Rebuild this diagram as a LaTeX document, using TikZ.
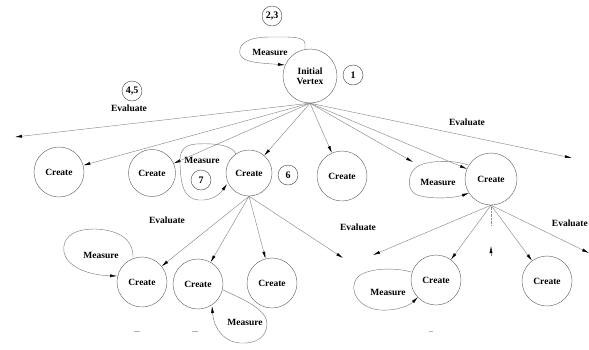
\documentclass[tikz,border=0pt]{standalone}
\usepackage{fontspec}
\setmainfont{Liberation Serif}
\usetikzlibrary{arrows.meta}
\tikzset{
  vtx/.style={circle, draw=black!65, line width=0.4pt, minimum size=50pt, inner sep=0pt,
    font=\bfseries\fontsize{9.5}{11}\selectfont, align=center},
  num/.style={circle, draw=black!75, line width=0.4pt, minimum size=20pt, inner sep=0pt,
    font=\bfseries\fontsize{10}{11}\selectfont},
  lbl/.style={font=\bfseries\fontsize{9.5}{11}\selectfont, inner sep=0pt},
  arr/.style={draw=black!50, line width=0.4pt, -{Latex[length=7pt,width=3pt,color=black]}},
  blob/.style={draw=black!55, line width=0.4pt, -{Latex[length=7pt,width=3pt,color=black]}},
  dots/.style={font=\fontsize{8}{9}\selectfont, inner sep=0pt}
}
\begin{document}
\begin{tikzpicture}[x=1pt,y=-1pt]
\useasboundingbox (0,0) rectangle (589,349);

% vertices
\node[vtx, minimum size=54pt] (iv) at (310,76) {Initial\\[-1pt]Vertex};
\node[vtx] (c1) at (59,172) {Create};
\node[vtx, minimum size=47pt] (c2) at (152,173) {Create};
\node[vtx, minimum size=46pt] (c3) at (249,173) {Create};
\node[vtx] (c4) at (342,176) {Create};
\node[vtx, minimum size=52pt] (c5) at (491,179) {Create};
\node[vtx] (c6) at (142,282) {Create};
\node[vtx] (c7) at (198,284) {Create};
\node[vtx] (c8) at (272,283) {Create};
\node[vtx] (c9) at (436,280) {Create};
\node[vtx] (c10) at (547,281) {Create};

% step numbers
\node[num] (n1) at (353,75) {1};
\node[num] (n23) at (272,16) {2,3};
\node[num] (n45) at (132,91) {4,5};
\node[num] (n6) at (288,175) {6};
\node[num] (n7) at (201,180) {7};

% labels
\node[lbl] (mi) at (270,52) {Measure};
\node[lbl] (m3) at (202,160) {Measure};
\node[lbl] (m5) at (438,182) {Measure};
\node[lbl] (m6) at (101,255) {Measure};
\node[lbl] (m7) at (245,322) {Measure};
\node[lbl] (m9) at (388,292) {Measure};
\node[lbl] (ev1) at (129,108) {Evaluate};
\node[lbl] (ev2) at (467,122) {Evaluate};
\node[lbl] (ev3) at (167,220) {Evaluate};
\node[lbl] (ev4) at (358,227) {Evaluate};
\node[lbl, anchor=east] (ev5) at (588,223) {Evaluate};
\node[dots] (d1) at (137,332) {...};
\node[dots] (d2) at (195,332) {...};
\node[dots] (d3) at (431,332) {..};

% free ends
\coordinate (e1) at (15,137);
\coordinate (e6) at (413,162);
\coordinate (e8) at (572,158);
\coordinate (e9) at (343,258);
\coordinate (e10) at (373,255);
\coordinate (e11) at (589,253);
\coordinate (q1) at (491,225);
\coordinate (q2) at (491,256);
\coordinate (q3) at (491,246);

% evaluate arrows from initial vertex
\foreach \t in {e1,c1,c2,c3,c4,e6,c5,e8}
  \draw[arr] (iv.south) -- (\t);
% from c3
\foreach \t in {c6,c7,c8,e9}
  \draw[arr] (c3.south) -- (\t);
% from c5
\foreach \t in {e10,c9,c10,e11}
  \draw[arr] (c5.south) -- (\t);
\draw[draw=black!45, line width=0.4pt, densely dotted] (c5.south) -- (q1);
\draw[arr] (q2) -- (q3);

% measure loops
\draw[blob] (305,50) -- (305,44) .. controls (305,36) and (290,37) .. (270,37)
  .. controls (246,37) and (238,45) .. (240,54) .. controls (242,63) and (262,63) .. (285,65);
\draw[blob] (236,154) .. controls (232,145) and (215,143) .. (196,144)
  .. controls (183,145) and (179,152) .. (180,165) .. controls (181,186) and (184,199) .. (199,200)
  .. controls (212,201) and (220,194) .. (227,184);
\draw[blob] (468,165) .. controls (455,160) and (430,160) .. (418,166)
  .. controls (408,172) and (406,188) .. (415,194) .. controls (428,200) and (455,198) .. (469,193);
\draw[blob] (133,259) .. controls (134,240) and (120,230) .. (95,229)
  .. controls (70,229) and (62,240) .. (64,252) .. controls (66,265) and (85,275) .. (117,276);
\draw[blob] (223,290) .. controls (245,300) and (268,310) .. (267,325)
  .. controls (266,338) and (255,344) .. (240,343) .. controls (225,342) and (214,330) .. (212,306);
\draw[blob] (411,272) .. controls (395,267) and (365,268) .. (357,278)
  .. controls (348,290) and (358,308) .. (380,310) .. controls (398,311) and (410,305) .. (418,297);
\end{tikzpicture}
\end{document}
